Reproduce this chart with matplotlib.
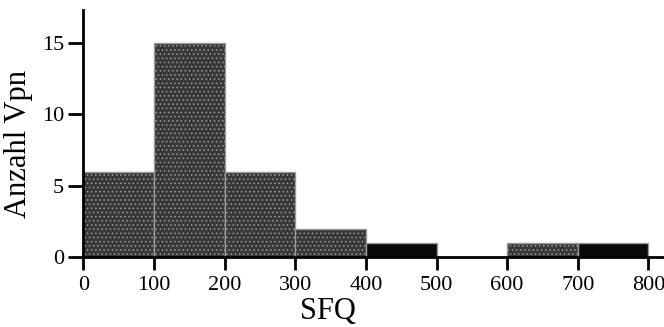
import matplotlib.pyplot as plt
import numpy as np

# histogram data: SFQ bins (left edges) and number of subjects
bin_left = [0, 100, 200, 300, 400, 500, 600, 700]
counts = [6, 15, 6, 2, 1, 0, 1, 1]
bar_colors = ['#383838', '#383838', '#383838', '#383838', '#0a0a0a', '#383838', '#383838', '#0a0a0a']
x_ticks = [0, 100, 200, 300, 400, 500, 600, 700, 800]
y_ticks = [0, 5, 10, 15]

plt.rcParams['font.family'] = ['Liberation Serif', 'DejaVu Serif']
plt.rcParams['hatch.color'] = '#6a6a6a'
plt.rcParams['hatch.linewidth'] = 0.6

fig = plt.figure(figsize=(6.64, 3.27), dpi=100)
ax = fig.add_axes([0.1255, 0.213, 0.8745, 0.756])

bars = ax.bar(bin_left, counts, width=100, align='edge', color=bar_colors,
              edgecolor='#9a9a9a', linewidth=1.0, zorder=2)
# stippled texture on the grey bars
for b, c in zip(bars, bar_colors):
    if c != '#0a0a0a':
        b.set_hatch('....')

ax.set_xlim(0, 822)
ax.set_ylim(0, 17.3)
ax.set_xticks(x_ticks)
ax.set_yticks(y_ticks)

for s in ['top', 'right']:
    ax.spines[s].set_visible(False)
for s in ['left', 'bottom']:
    ax.spines[s].set_linewidth(2.0)
    ax.spines[s].set_zorder(3)

ax.tick_params(axis='both', direction='out', width=2.0, labelsize=16, color='black')
ax.tick_params(axis='y', length=11, pad=3)
ax.tick_params(axis='x', length=9.5, pad=4)

ax.set_xlabel('SFQ', fontsize=22)
ax.xaxis.set_label_coords((328 - 83.3) / (664 - 83.3), -0.16)
ax.set_ylabel('Anzahl Vpn', fontsize=22)
ax.yaxis.set_label_coords(-0.086, 0.46)

fig.savefig('out.png', dpi=100)
